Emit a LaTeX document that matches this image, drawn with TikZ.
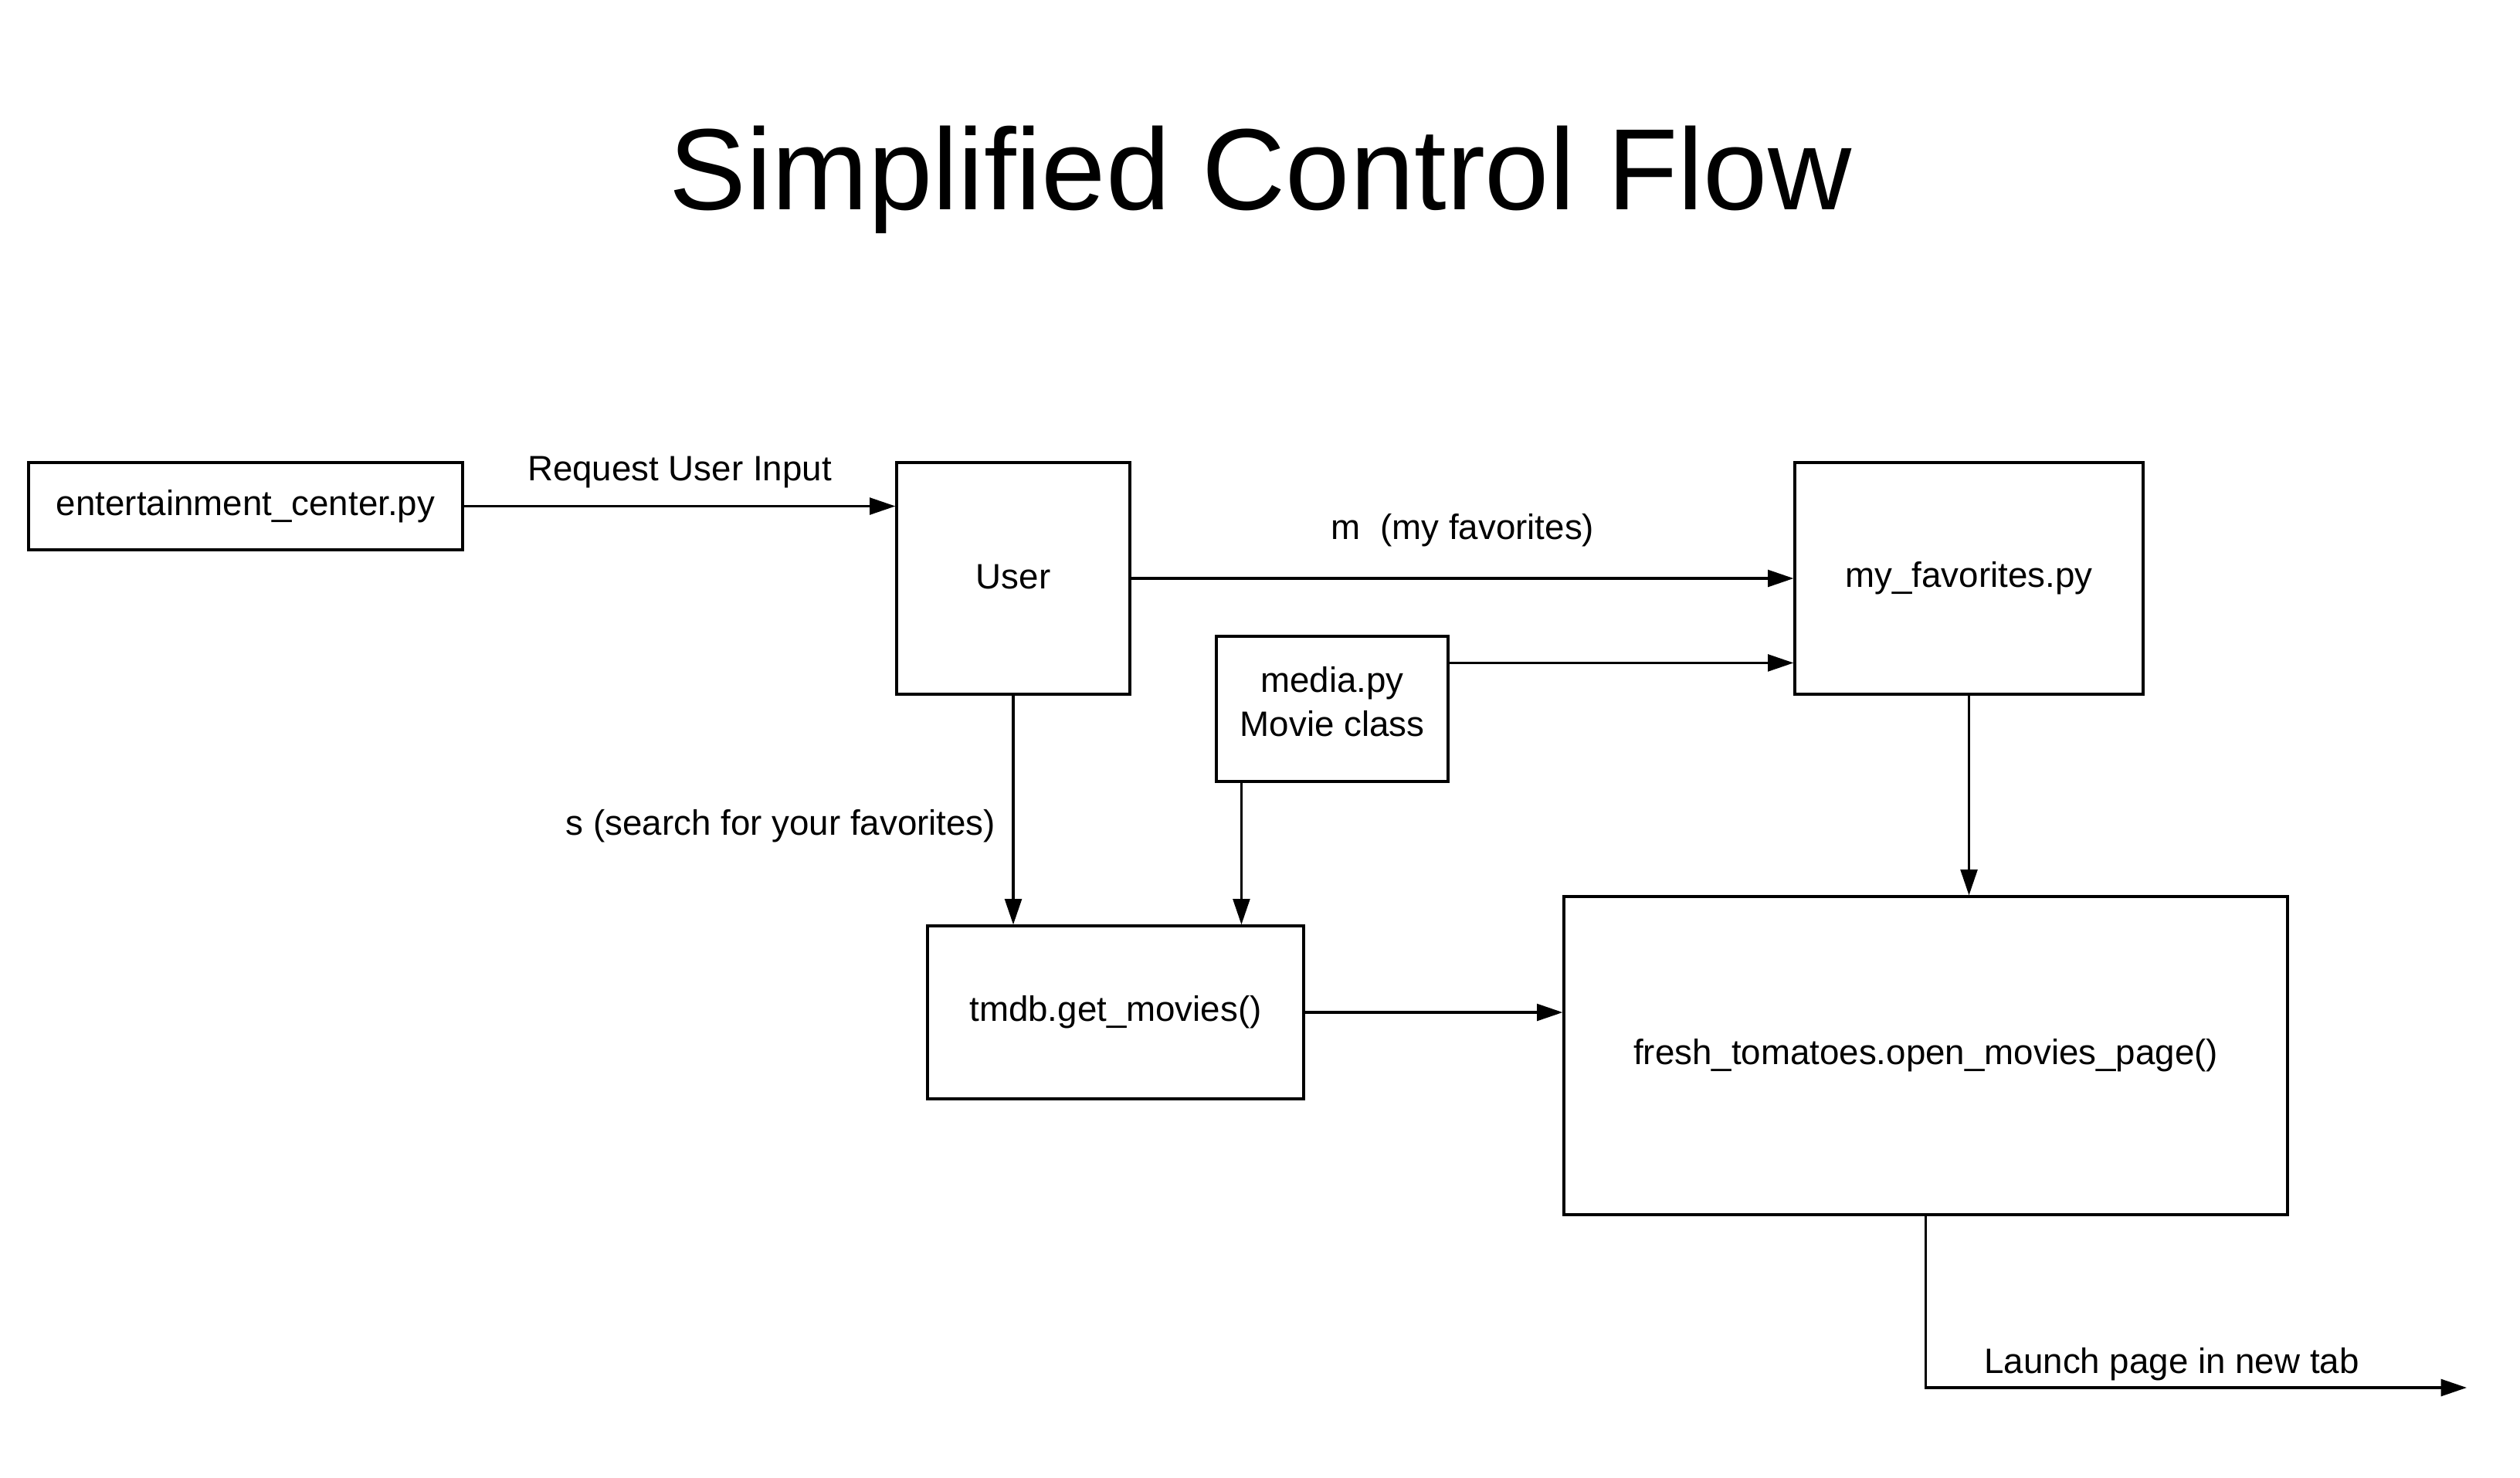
\documentclass[tikz,border=0pt]{standalone}
\usepackage{fontspec}
\setmainfont{Liberation Sans}
\usepackage{tikz}
\usetikzlibrary{arrows.meta,positioning,calc}

\begin{document}
\begin{tikzpicture}[
  box/.style={rectangle, draw, line width=0.9pt, inner sep=0pt, align=center,
              font=\fontsize{13}{16}\selectfont},
  arr/.style={-{Triangle[length=9.5pt, width=6.2pt]}, line width=0.9pt},
  lbl/.style={font=\fontsize{13}{16}\selectfont},
]
  \useasboundingbox (0,0) rectangle (32.63,-19.13);
  \node[font=\fontsize{42.6}{50}\selectfont] (title) at (16.32,-2.33) {Simplified Control Flow};

  \node[box, minimum width=5.62cm, minimum height=1.13cm] (ent) at (3.18,-6.555) {entertainment\_center.py};
  \node[box, minimum width=3.02cm, minimum height=3.0cm] (user) at (13.12,-7.49) {\raisebox{1.5pt}{User}};
  \node[box, minimum width=4.51cm, minimum height=3.0cm] (fav) at (25.495,-7.49) {my\_favorites.py};
  \node[box, minimum width=3.0cm, minimum height=1.88cm] (media) at (17.25,-9.18) {media.py\\Movie class\rule[-5.5pt]{0pt}{0pt}};
  \node[box, minimum width=4.87cm, minimum height=2.24cm] (tmdb) at (14.445,-13.11) {tmdb.get\_movies()};
  \node[box, minimum width=9.37cm, minimum height=4.12cm] (fresh) at (24.935,-13.67) {fresh\_tomatoes.open\_movies\_page()};

  \coordinate (mediaout) at ($(media.north east)+(0,-0.36)$);
  \coordinate (mediadown) at ($(media.south west)+(0.34,0)$);
  \coordinate (launch) at (31.94,-17.97);

  \draw[arr] (ent.east) -- (ent.east -| user.west);
  \draw[arr] (user.east) -- (fav.west);
  \draw[arr] (mediaout) -- (mediaout -| fav.west);
  \draw[arr] (user.south) -- (user.south |- tmdb.north);
  \draw[arr] (mediadown) -- (mediadown |- tmdb.north);
  \draw[arr] (fav.south) -- (fav.south |- fresh.north);
  \draw[arr] (tmdb.east) -- (tmdb.east -| fresh.west);
  \draw[arr] (fresh.south) |- (launch);

  \node[lbl] (lreq) at (8.80,-6.12) {Request User Input};
  \node[lbl] (lfav) at (18.94,-6.87) {m\ \ (my favorites)};
  \node[lbl] (lsearch) at (10.11,-10.70) {s (search for your favorites)};
  \node[lbl] (llaunch) at (28.12,-17.67) {Launch page in new tab};
\end{tikzpicture}
\end{document}
